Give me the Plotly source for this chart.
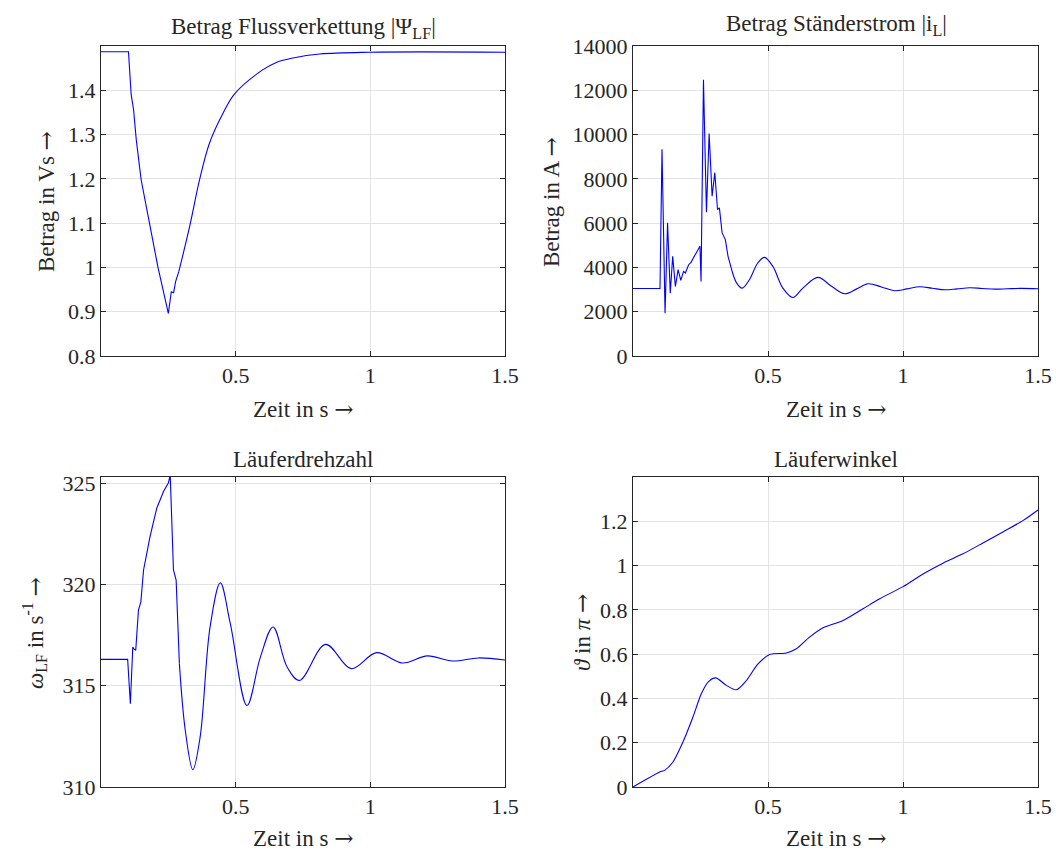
import plotly.graph_objects as go

# ---------------- data ----------------
t_flux = [0.0, 0.102, 0.112, 0.121, 0.131, 0.149, 0.180, 0.211, 0.250, 0.261, 0.2695, 0.277,
          0.289, 0.329, 0.366, 0.403, 0.453, 0.496, 0.60, 0.651, 0.713, 0.812, 0.998, 1.5]
flux = [1.487, 1.487, 1.39, 1.356, 1.288, 1.198, 1.100, 1.002, 0.896, 0.945, 0.943, 0.968,
        0.991, 1.092, 1.198, 1.281, 1.348, 1.392, 1.446, 1.463, 1.473, 1.482, 1.486, 1.486]

t_cur = [0.0, 0.100, 0.1075, 0.1187, 0.128, 0.138, 0.147, 0.157, 0.167, 0.177, 0.187, 0.194,
         0.206, 0.215, 0.227, 0.248, 0.252, 0.261, 0.272, 0.282, 0.293, 0.303, 0.313, 0.320,
         0.330, 0.342, 0.352, 0.369, 0.384, 0.404, 0.431, 0.462, 0.487, 0.518, 0.555, 0.592,
         0.629, 0.685, 0.735, 0.784, 0.827, 0.870, 0.920, 0.969, 1.015, 1.062, 1.108, 1.155,
         1.200, 1.247, 1.293, 1.340, 1.386, 1.433, 1.5]
cur = [3050, 3050, 9334, 1935, 6013, 2840, 4500, 3140, 3897, 3412, 3820, 3747,
       4123, 4228, 4500, 4953, 3367, 12475, 6494, 10045, 7219, 8279, 6615, 6692,
       5560, 5256, 4500, 3747, 3294, 3067, 3444, 4200, 4455, 4047, 3067, 2643,
       3067, 3549, 3150, 2809, 3020, 3262, 3120, 2945, 3030, 3126, 3060, 2990,
       3030, 3081, 3050, 3021, 3035, 3052, 3040]

t_speed = [0.0, 0.099, 0.109, 0.118, 0.121, 0.129, 0.139, 0.148, 0.158, 0.182, 0.207, 0.232,
           0.250, 0.257, 0.269, 0.279, 0.291, 0.313, 0.341, 0.368, 0.405, 0.443, 0.480, 0.542,
           0.592, 0.639, 0.691, 0.737, 0.834, 0.929, 1.023, 1.119, 1.212, 1.305, 1.400, 1.5]
speed = [316.30, 316.30, 314.11, 316.91, 316.83, 316.75, 318.73, 319.14, 320.71, 322.36, 323.76, 324.58,
         325.0, 325.4, 320.71, 320.21, 316.09, 312.79, 310.85, 312.46, 317.90, 320.08, 318.07, 314.02,
         316.42, 317.90, 315.92, 315.26, 317.04, 315.84, 316.63, 316.12, 316.47, 316.22, 316.37, 316.27]

t_angle = [0.0, 0.105, 0.117, 0.148, 0.185, 0.222, 0.253, 0.278, 0.306, 0.346, 0.383, 0.420,
           0.463, 0.506, 0.568, 0.605, 0.654, 0.704, 0.778, 0.852, 0.914, 1.0, 1.074, 1.148,
           1.222, 1.296, 1.370, 1.444, 1.5]
angle = [0.0, 0.0707, 0.075, 0.113, 0.203, 0.316, 0.421, 0.474, 0.493, 0.459, 0.439, 0.481,
         0.556, 0.598, 0.605, 0.624, 0.677, 0.719, 0.752, 0.805, 0.850, 0.905, 0.962, 1.011,
         1.053, 1.102, 1.152, 1.203, 1.251]

x_ticks = [0.5, 1, 1.5]
x_ticktext = ["0.5", "1", "1.5"]

# ---------------- figure ----------------
W, H = 1056, 850
FONT = "Liberation Serif"
TXT = "#262626"
BLUE = "#0000ff"

fig = go.Figure()

def px_x(p):
    return p / W

def px_y(p):
    return 1 - p / H

dom_left = [px_x(101), px_x(505)]
dom_right = [px_x(633), px_x(1038)]
dom_top = [px_y(356), px_y(46)]
dom_bot = [px_y(787), px_y(477)]

line = dict(color=BLUE, width=1.1)
sline = dict(color=BLUE, width=1.1, shape="spline", smoothing=1.0)

# flux: sharp drop linear, recovery smooth
kf = t_flux.index(0.289)
fig.add_trace(go.Scatter(x=t_flux[:kf + 1], y=flux[:kf + 1], mode="lines", line=line, xaxis="x", yaxis="y"))
fig.add_trace(go.Scatter(x=t_flux[kf:], y=flux[kf:], mode="lines", line=sline, xaxis="x", yaxis="y"))
# current: spiky part linear, damped tail smooth
k = t_cur.index(0.369)
fig.add_trace(go.Scatter(x=t_cur[:k + 1], y=cur[:k + 1], mode="lines", line=line, xaxis="x2", yaxis="y2"))
fig.add_trace(go.Scatter(x=t_cur[k:], y=cur[k:], mode="lines", line=sline, xaxis="x2", yaxis="y2"))
ks = t_speed.index(0.291)
fig.add_trace(go.Scatter(x=t_speed[:ks + 1], y=speed[:ks + 1], mode="lines", line=line, xaxis="x3", yaxis="y3"))
fig.add_trace(go.Scatter(x=t_speed[ks:], y=speed[ks:], mode="lines", line=sline, xaxis="x3", yaxis="y3"))
fig.add_trace(go.Scatter(x=t_angle, y=angle, mode="lines", line=dict(color=BLUE, width=1.1, shape="spline", smoothing=0.8),
                         xaxis="x4", yaxis="y4"))

axis_common = dict(
    showline=True, linecolor=TXT, linewidth=1, mirror="ticks",
    ticks="inside", ticklen=5, tickcolor=TXT, tickwidth=1,
    showgrid=True, gridcolor="#e3e3e3", gridwidth=1,
    zeroline=False, automargin=False,
    tickfont=dict(family=FONT, size=22, color=TXT),
)

def xax(domain, anchor):
    return dict(axis_common, domain=domain, anchor=anchor, range=[0, 1.5],
                tickvals=x_ticks, ticktext=x_ticktext)

fig.update_layout(
    width=W, height=H,
    margin=dict(l=0, r=0, t=0, b=0, autoexpand=False),
    paper_bgcolor="white", plot_bgcolor="white",
    showlegend=False,
    font=dict(family=FONT, color=TXT),
    xaxis=xax(dom_left, "y"),
    xaxis2=xax(dom_right, "y2"),
    xaxis3=xax(dom_left, "y3"),
    xaxis4=xax(dom_right, "y4"),
    yaxis=dict(axis_common, domain=dom_top, anchor="x", range=[0.8, 1.5],
               tickvals=[0.8, 0.9, 1.0, 1.1, 1.2, 1.3, 1.4],
               ticktext=["0.8", "0.9", "1", "1.1", "1.2", "1.3", "1.4"]),
    yaxis2=dict(axis_common, domain=dom_top, anchor="x2", range=[0, 14000],
                tickvals=list(range(0, 14001, 2000)), tickformat="d"),
    yaxis3=dict(axis_common, domain=dom_bot, anchor="x3", range=[310, 325.3],
                tickvals=[310, 315, 320, 325]),
    yaxis4=dict(axis_common, domain=dom_bot, anchor="x4", range=[0, 1.4],
                tickvals=[0, 0.2, 0.4, 0.6, 0.8, 1.0, 1.2],
                ticktext=["0", "0.2", "0.4", "0.6", "0.8", "1", "1.2"]),
)

ARROW = "<span style='font-family:DejaVu Serif'>→</span>"
ann_font = dict(family=FONT, size=23, color=TXT)
anns = [
    # titles
    (303, 28, "Betrag Flussverkettung |Ψ<sub>LF</sub>|", 0),
    (836, 25, "Betrag Ständerstrom |i<sub>L</sub>|", 0),
    (303, 460, "Läuferdrehzahl", 0),
    (836, 460, "Läuferwinkel", 0),
    # x labels
    (303, 409, "Zeit in s " + ARROW, 0),
    (836, 409, "Zeit in s " + ARROW, 0),
    (303, 838, "Zeit in s " + ARROW, 0),
    (836, 838, "Zeit in s " + ARROW, 0),
    # y labels
    (46, 202, "Betrag in Vs " + ARROW, -90),
    (551, 202, "Betrag in A " + ARROW, -90),
    (34, 633, "<i>ω</i><sub>LF</sub> in s<sup>-1</sup> " + ARROW, -90),
    (582, 633, "<i>ϑ</i> in <i>π</i> " + ARROW, -90),
]
for x, y, text, ang in anns:
    fig.add_annotation(x=px_x(x), y=px_y(y), xref="paper", yref="paper", text=text,
                       showarrow=False, textangle=ang, font=ann_font,
                       xanchor="center", yanchor="middle")

fig.write_html("out.html", config={"displayModeBar": False},
               post_script="document.body.style.margin='0';document.body.style.overflow='hidden';")
